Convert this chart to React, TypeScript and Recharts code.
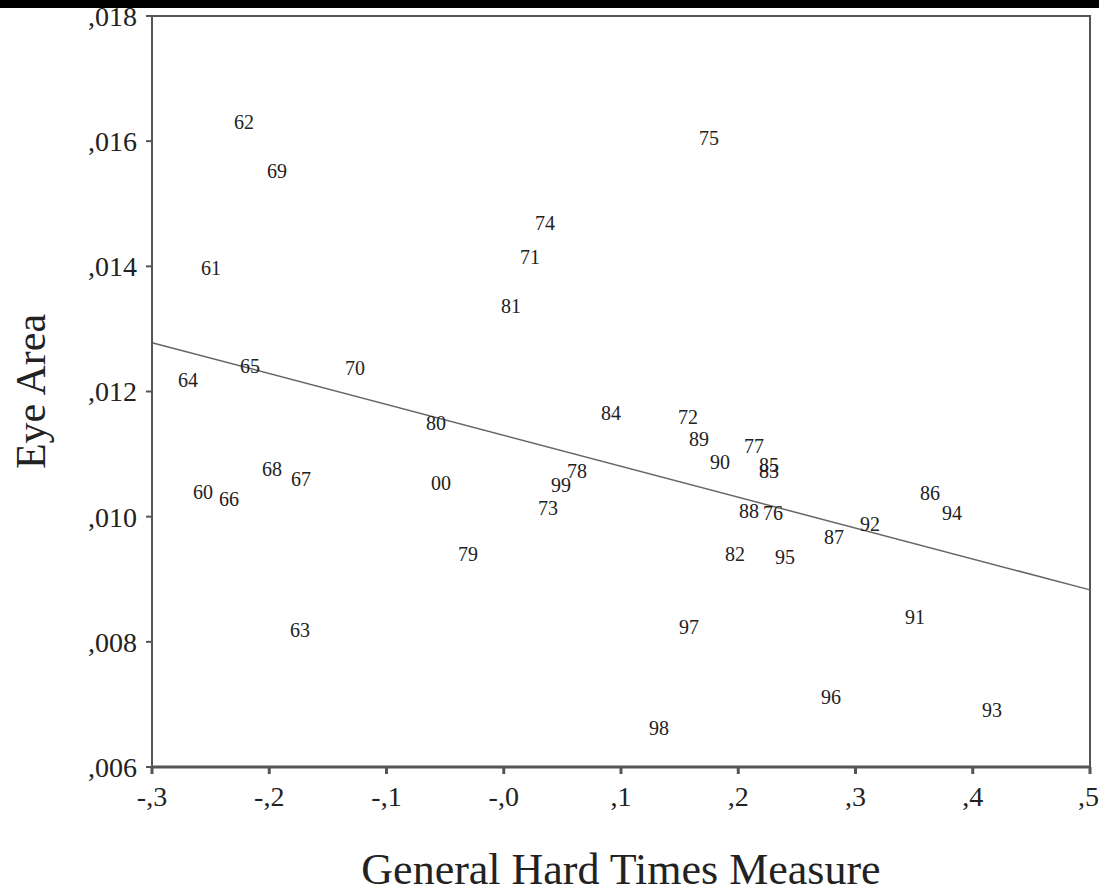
import React from "react";
import {
  ComposedChart,
  Scatter,
  XAxis,
  YAxis,
  ReferenceLine,
  ReferenceArea,
  Label,
} from "recharts";

const yearLabels = ["62","69","61","75","74","71","81","64","65","70","80","84","72","89","90","77","85","83","68","67","60","66","00","99","78","73","88","76","92","87","86","94","82","95","79","63","97","91","96","93","98"];
const hardTimes = [-0.2215,-0.1934,-0.2497,0.1751,0.0352,0.0224,0.0062,-0.2693,-0.2164,-0.1269,-0.0578,0.0915,0.1571,0.1665,0.1844,0.2134,0.2262,0.2262,-0.1977,-0.1729,-0.2565,-0.2343,-0.0535,0.0488,0.0625,0.0377,0.2092,0.2296,0.3124,0.2817,0.3635,0.3823,0.1972,0.2399,-0.0305,-0.1738,0.158,0.3507,0.2791,0.4164,0.1324];
const eyeArea = [0.01631,0.01552,0.01397,0.01605,0.01469,0.01415,0.01337,0.01219,0.01241,0.01238,0.0115,0.01166,0.01159,0.01124,0.01088,0.01113,0.01083,0.01073,0.01076,0.0106,0.0104,0.01028,0.01054,0.01051,0.01073,0.01014,0.01009,0.01006,0.00988,0.00968,0.01038,0.01006,0.00941,0.00936,0.00941,0.00819,0.00824,0.0084,0.00712,0.00691,0.00663];

const xTicks = [-0.3,-0.2,-0.1,0,0.1,0.2,0.3,0.4,0.5];
const xTickLabels = ["-,3","-,2","-,1","-,0",",1",",2",",3",",4",",5"];
const yTicks = [0.006,0.008,0.01,0.012,0.014,0.016,0.018];
const yTickLabels = [",006",",008",",010",",012",",014",",016",",018"];

const fitX = [-0.3, 0.5];
const fitY = [0.01278, 0.00883];

const points = yearLabels.map((label, i) => ({ label, x: hardTimes[i], y: eyeArea[i] }));

const FONT = "'Liberation Serif', 'DejaVu Serif', serif";

const LabelShape = (props: any) => {
  const { cx, cy, payload } = props;
  return (
    <text x={cx} y={cy} textAnchor="middle" dominantBaseline="central" fontSize={20} fontFamily={FONT} fill="#222">
      {payload.label}
    </text>
  );
};

export default function App() {
  return (
    <div style={{ position: "absolute", left: 0, top: 0, width: 1099, height: 893, background: "#fff" }}>
      <div style={{ position: "absolute", left: 0, top: 0, width: 1099, height: 8, background: "#000" }} />
      <ComposedChart
        width={1099}
        height={893}
        margin={{ top: 16, right: 9, bottom: 0, left: 0 }}
        style={{ fontFamily: FONT }}
      >
        <XAxis
          type="number"
          dataKey="x"
          domain={[-0.3, 0.5]}
          ticks={xTicks}
          tickFormatter={(v: number) => xTickLabels[xTicks.findIndex((t) => Math.abs(t - v) < 1e-9)]}
          allowDataOverflow
          stroke="#555"
          strokeWidth={3}
          tickSize={7}
          tickMargin={12}
          tick={{ fontSize: 28, fill: "#222", fontFamily: FONT }}
          height={126}
        >
          <Label value="General Hard Times Measure" position="insideBottom" offset={9} style={{ fontSize: 44, fill: "#222", fontFamily: FONT }} />
        </XAxis>
        <YAxis
          type="number"
          dataKey="y"
          domain={[0.006, 0.018]}
          ticks={yTicks}
          tickFormatter={(v: number) => yTickLabels[yTicks.findIndex((t) => Math.abs(t - v) < 1e-9)]}
          allowDataOverflow
          stroke="#555"
          strokeWidth={2}
          tickSize={6}
          tickMargin={9}
          tick={{ fontSize: 28, fill: "#222", fontFamily: FONT }}
          width={152}
        >
          <Label value="Eye Area" angle={-90} position="insideLeft" offset={30} style={{ fontSize: 42, fill: "#222", fontFamily: FONT, textAnchor: "middle" }} />
        </YAxis>
        <ReferenceArea x1={-0.3} x2={0.5} y1={0.006} y2={0.018} fill="none" stroke="#555" strokeWidth={2} ifOverflow="visible" />
        <ReferenceLine
          segment={[{ x: fitX[0], y: fitY[0] }, { x: fitX[1], y: fitY[1] }]}
          stroke="#666"
          strokeWidth={1.5}
        />
        <Scatter data={points} dataKey="y" shape={LabelShape} isAnimationActive={false} />
      </ComposedChart>
    </div>
  );
}
